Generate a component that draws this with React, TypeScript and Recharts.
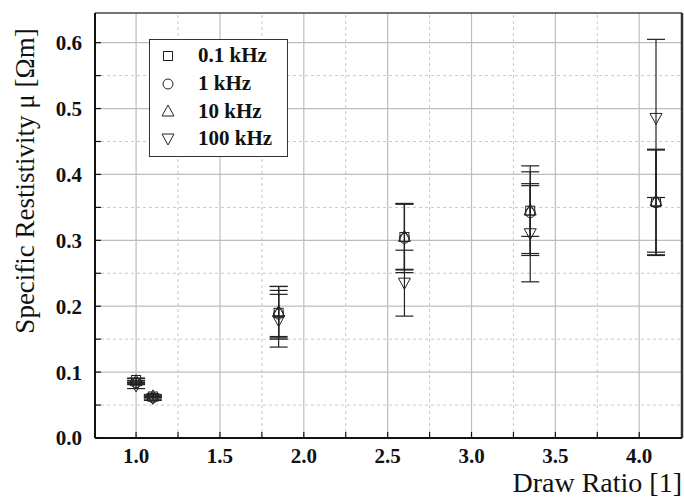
import { ScatterChart, Scatter, XAxis, YAxis, ErrorBar, ReferenceLine, Label } from 'recharts';

const drawRatio = [1.0, 1.1, 1.85, 2.6, 3.35, 4.1];

const rho01 = [0.088, 0.063, 0.19, 0.305, 0.345, 0.358];
const err01 = [0.003, 0.002, 0.04, 0.05, 0.068, 0.08];
const rho1 = [0.084, 0.061, 0.188, 0.303, 0.342, 0.357];
const err1 = [0.003, 0.002, 0.036, 0.052, 0.062, 0.08];
const rho10 = [0.087, 0.064, 0.192, 0.306, 0.346, 0.36];
const err10 = [0.003, 0.002, 0.038, 0.05, 0.04, 0.078];
const rho100 = [0.079, 0.06, 0.178, 0.235, 0.31, 0.485];
const err100 = [0.004, 0.003, 0.04, 0.05, 0.073, 0.12];

const seriesNames = ['0.1 kHz', '1 kHz', '10 kHz', '100 kHz'];

const xMajor = [1.0, 1.5, 2.0, 2.5, 3.0, 3.5, 4.0];
const xMinor = [1.25, 1.75, 2.25, 2.75, 3.25, 3.75];
const yMajor = [0.0, 0.1, 0.2, 0.3, 0.4, 0.5, 0.6];
const yMinor = [0.05, 0.15, 0.25, 0.35, 0.45, 0.55];

const X_DOMAIN = [0.755, 4.255];
const Y_DOMAIN = [0, 0.645];

const FONT = '"Liberation Serif", "Times New Roman", serif';

const toPoints = (ys: number[], errs: number[]) =>
  drawRatio.map((x, i) => ({ x, y: ys[i], err: errs[i] }));

const Square = ({ cx, cy }: any) => (
  <rect x={cx - 4.5} y={cy - 4.5} width={9} height={9} fill="none" stroke="#222" strokeWidth={1} />
);
const Circle = ({ cx, cy }: any) => (
  <circle cx={cx} cy={cy} r={5} fill="none" stroke="#222" strokeWidth={1} />
);
const TriUp = ({ cx, cy }: any) => (
  <path d={`M${cx},${cy - 6}L${cx + 6},${cy + 5}L${cx - 6},${cy + 5}Z`} fill="none" stroke="#222" strokeWidth={1} />
);
const TriDown = ({ cx, cy }: any) => (
  <path d={`M${cx - 6},${cy - 5}L${cx + 6},${cy - 5}L${cx},${cy + 6}Z`} fill="none" stroke="#222" strokeWidth={1} />
);

const shapes = [Square, Circle, TriUp, TriDown];

const fmt = (majors: number[]) => (v: number) =>
  majors.some((m) => Math.abs(m - v) < 1e-9) ? v.toFixed(1) : '';

// legend drawn as an overlay so it doesn't eat chart height
const LegendBox = () => (
  <div
    style={{
      position: 'absolute',
      left: 149,
      top: 39,
      border: '1.5px solid #333',
      background: '#fff',
      width: 137,
      padding: '2px 0 3px 0',
      fontFamily: FONT,
      fontWeight: 'bold',
      fontSize: 21,
      color: '#111',
    }}
  >
    {seriesNames.map((name, i) => {
      const Shape = shapes[i];
      return (
        <div key={name} style={{ display: 'flex', alignItems: 'center', height: 27.7 }}>
          <svg width={48} height={20} style={{ flex: 'none' }}>
            <Shape cx={18} cy={10} />
          </svg>
          <span>{name}</span>
        </div>
      );
    })}
  </div>
);

export default function App() {
  const series = [
    toPoints(rho01, err01),
    toPoints(rho1, err1),
    toPoints(rho10, err10),
    toPoints(rho100, err100),
  ];

  return (
    <div style={{ position: 'absolute', left: 0, top: 0, width: 684, height: 499 }}>
      <ScatterChart width={684} height={499} margin={{ top: 13, right: 2, left: 0, bottom: 0 }}>
        {xMinor.map((v) => (
          <ReferenceLine key={`xm${v}`} x={v} stroke="#c8c8c8" strokeDasharray="3 3" />
        ))}
        {yMinor.map((v) => (
          <ReferenceLine key={`ym${v}`} y={v} stroke="#c8c8c8" strokeDasharray="3 3" />
        ))}
        {xMajor.map((v) => (
          <ReferenceLine key={`xM${v}`} x={v} stroke="#bdbdbd" strokeWidth={1.2} />
        ))}
        {yMajor.slice(1).map((v) => (
          <ReferenceLine key={`yM${v}`} y={v} stroke="#bdbdbd" strokeWidth={1.2} />
        ))}
        <ReferenceLine y={Y_DOMAIN[1]} stroke="#444" strokeWidth={1.5} />
        <ReferenceLine x={X_DOMAIN[1]} stroke="#333" strokeWidth={2.5} />
        <XAxis
          type="number"
          dataKey="x"
          domain={X_DOMAIN}
          allowDataOverflow
          ticks={[...xMajor, ...xMinor].sort((a, b) => a - b)}
          tickFormatter={fmt(xMajor)}
          interval={0}
          height={61}
          tickSize={-6}
          tickMargin={16}
          axisLine={{ stroke: '#111', strokeWidth: 2 }}
          tickLine={{ stroke: '#111', strokeWidth: 1.2 }}
          tick={{ fill: '#111', fontFamily: FONT, fontWeight: 'bold', fontSize: 21 }}
        >
          <Label
            content={() => (
              <text x={682} y={492} textAnchor="end" fontFamily={FONT} fontSize={28} fill="#111">
                Draw Ratio [1]
              </text>
            )}
          />
        </XAxis>
        <YAxis
          type="number"
          dataKey="y"
          domain={Y_DOMAIN}
          allowDataOverflow
          ticks={[...yMajor, ...yMinor].sort((a, b) => a - b)}
          tickFormatter={fmt(yMajor)}
          interval={0}
          width={95}
          tickSize={-6}
          tickMargin={19}
          axisLine={{ stroke: '#111', strokeWidth: 2 }}
          tickLine={{ stroke: '#111', strokeWidth: 1.2 }}
          tick={{ fill: '#111', fontFamily: FONT, fontWeight: 'bold', fontSize: 21 }}
        >
          <Label
            content={() => (
              <text
                x={34}
                y={181}
                transform="rotate(-90 34 181)"
                textAnchor="middle"
                fontFamily={FONT}
                fontSize={27}
                fill="#111"
              >
                Specific Restistivity μ [Ωm]
              </text>
            )}
          />
        </YAxis>
        {series.map((data, i) => (
          <Scatter
            key={seriesNames[i]}
            name={seriesNames[i]}
            data={data}
            shape={shapes[i]}
            isAnimationActive={false}
          >
            <ErrorBar dataKey="err" direction="y" width={9} stroke="#222" strokeWidth={1.2} />
          </Scatter>
        ))}
      </ScatterChart>
      <LegendBox />
    </div>
  );
}
